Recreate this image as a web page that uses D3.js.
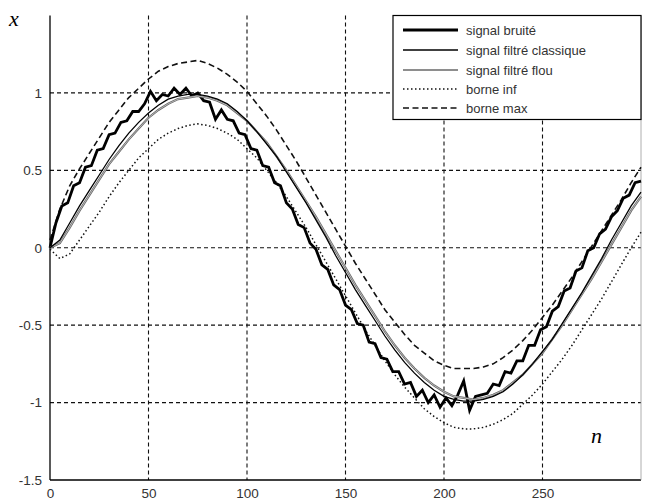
<!DOCTYPE html>
<html><head><meta charset="utf-8">
<script src="https://cdn.jsdelivr.net/npm/d3@7"></script>
<style>body{margin:0;background:#fff}svg{display:block}</style>
</head><body><svg id="c" width="649" height="502"></svg>
<script>
// ---- data ----
const xTicks = [0, 50, 100, 150, 200, 250];
const yTicks = [-1.5, -1, -0.5, 0, 0.5, 1];
const yTickLabels = ["-1.5", "-1", "-0.5", "0", "0.5", "1"];
const legendLabels = ["signal bruité", "signal filtré classique", "signal filtré flou", "borne inf", "borne max"];

// noisy signal, n = 0,3,6,...,300
const noisyN = d3.range(0, 301, 3);
const noisy = [0.00,0.16,0.27,0.29,0.40,0.42,0.52,0.53,0.63,0.64,0.73,0.74,0.81,0.82,0.88,0.88,0.93,1.01,0.95,0.99,
  0.98,1.03,0.99,1.03,0.98,1.00,0.95,0.94,0.83,0.89,0.83,0.82,0.74,0.73,0.64,0.63,0.53,0.52,0.42,0.40,
  0.29,0.25,0.15,0.13,0.03,-0.01,-0.11,-0.14,-0.24,-0.27,-0.37,-0.40,-0.49,-0.50,-0.61,-0.62,-0.71,-0.72,-0.80,-0.80,
  -0.88,-0.87,-0.96,-0.92,-1.00,-0.95,-1.03,-0.97,-1.02,-0.95,-0.86,-1.05,-0.96,-0.95,-0.94,-0.88,-0.89,-0.80,-0.81,-0.73,
  -0.73,-0.63,-0.63,-0.53,-0.51,-0.41,-0.38,-0.28,-0.26,-0.15,-0.13,-0.02,0.00,0.09,0.12,0.20,0.24,0.32,0.34,0.42,0.43];

// smooth curves, n = 0,5,...,300
const smoothN = d3.range(0, 301, 5);
const classique = [0.00,0.05,0.16,0.27,0.37,0.47,0.57,0.66,0.74,0.81,0.87,0.92,0.96,0.98,0.99,0.99,0.98,0.96,0.93,0.88,
  0.82,0.75,0.67,0.59,0.49,0.39,0.29,0.18,0.07,-0.05,-0.16,-0.27,-0.37,-0.47,-0.57,-0.66,-0.74,-0.81,-0.87,-0.92,
  -0.96,-0.98,-0.99,-0.99,-0.98,-0.96,-0.93,-0.88,-0.82,-0.75,-0.67,-0.59,-0.49,-0.39,-0.29,-0.18,-0.07,0.05,0.16,0.27,0.36];
const flou = [0.00,0.03,0.13,0.24,0.34,0.44,0.54,0.62,0.70,0.77,0.84,0.89,0.93,0.96,0.97,0.98,0.97,0.95,0.92,0.87,
  0.82,0.75,0.68,0.59,0.50,0.40,0.30,0.20,0.09,-0.02,-0.13,-0.24,-0.34,-0.44,-0.54,-0.63,-0.71,-0.78,-0.84,-0.89,
  -0.93,-0.96,-0.97,-0.98,-0.97,-0.95,-0.92,-0.87,-0.82,-0.75,-0.68,-0.59,-0.50,-0.40,-0.30,-0.20,-0.09,0.02,0.13,0.24,0.33];
const borneInf = [-0.01,-0.07,-0.04,0.05,0.14,0.23,0.33,0.42,0.50,0.58,0.64,0.70,0.74,0.77,0.79,0.80,0.79,0.77,0.74,0.70,
  0.64,0.58,0.50,0.42,0.33,0.23,0.13,0.02,-0.09,-0.20,-0.31,-0.42,-0.53,-0.63,-0.73,-0.82,-0.90,-0.97,-1.04,-1.09,
  -1.13,-1.16,-1.17,-1.17,-1.16,-1.14,-1.11,-1.07,-1.01,-0.95,-0.88,-0.80,-0.72,-0.63,-0.53,-0.43,-0.33,-0.22,-0.11,0.00,0.10];
const borneMax = [0.05,0.25,0.40,0.51,0.61,0.71,0.81,0.89,0.97,1.03,1.09,1.14,1.17,1.19,1.20,1.21,1.19,1.16,1.12,1.07,
  1.01,0.93,0.85,0.76,0.66,0.56,0.45,0.34,0.23,0.12,0.01,-0.10,-0.20,-0.30,-0.40,-0.48,-0.56,-0.63,-0.68,-0.73,
  -0.76,-0.78,-0.78,-0.78,-0.77,-0.75,-0.71,-0.66,-0.60,-0.53,-0.45,-0.37,-0.28,-0.19,-0.09,0.01,0.11,0.21,0.31,0.42,0.52];

// ---- chart ----
const svg = d3.select("#c");
const L = 50, R = 641, T = 15.5, B = 480;
const x = d3.scaleLinear().domain([0, 300]).range([L, R]);
const y = d3.scaleLinear().domain([-1.5, 1.5]).range([B, T]);
const font = "'Liberation Sans', Arial, sans-serif";

// grid
const g = svg.append("g");
g.selectAll(".gx").data(xTicks.filter(d => d > 0)).enter().append("line")
  .attr("x1", d => x(d)).attr("x2", d => x(d)).attr("y1", T).attr("y2", B)
  .attr("stroke", "#111").attr("stroke-width", 1.1).attr("stroke-dasharray", "4,3");
g.selectAll(".gy").data(yTicks.filter(d => d > -1.5)).enter().append("line")
  .attr("x1", L).attr("x2", R).attr("y1", d => y(d)).attr("y2", d => y(d))
  .attr("stroke", "#111").attr("stroke-width", 1.1).attr("stroke-dasharray", "4,3");

// axes
const xAxis = d3.axisBottom(x).tickValues(xTicks).tickSize(0).tickPadding(8).tickFormat(d3.format("d"));
const yAxis = d3.axisLeft(y).tickValues(yTicks).tickSize(0).tickPadding(8).tickFormat((d, i) => yTickLabels[i]);
const ax = svg.append("g").attr("transform", `translate(0,${B})`).call(xAxis);
const ay = svg.append("g").attr("transform", `translate(${L},0)`).call(yAxis);
[ax, ay].forEach(a => {
  a.select(".domain").remove();
  a.selectAll("text").attr("font-family", font).attr("font-size", 13.5).attr("fill", "#333");
});
svg.append("line").attr("x1", L).attr("x2", L).attr("y1", T).attr("y2", B).attr("stroke", "#000").attr("stroke-width", 1.3);
svg.append("line").attr("x1", L).attr("x2", R).attr("y1", B).attr("y2", B).attr("stroke", "#000").attr("stroke-width", 1.3);
svg.append("line").attr("x1", R).attr("x2", R).attr("y1", T).attr("y2", B).attr("stroke", "#999").attr("stroke-width", 0.8);

// series
const lineS = d3.line().x((d, i) => x(smoothN[i])).y(d => y(d));
const lineN = d3.line().x((d, i) => x(noisyN[i])).y(d => y(d));
const styles = [
  {w: 2.8, c: "#000", dash: null},
  {w: 1.3, c: "#000", dash: null},
  {w: 2.2, c: "#666", dash: null},
  {w: 1.5, c: "#111", dash: "1.5,2.5"},
  {w: 1.6, c: "#111", dash: "6,3.5"}
];
function draw(data, gen, s) {
  svg.append("path").attr("d", gen(data)).attr("fill", "none").attr("stroke", s.c)
    .attr("stroke-width", s.w).attr("stroke-dasharray", s.dash).attr("stroke-linejoin", "miter");
}
draw(borneMax, lineS, styles[4]);
draw(borneInf, lineS, styles[3]);
draw(noisy, lineN, styles[0]);
draw(flou, lineS, styles[2]);
svg.append("path").attr("d", lineS(flou)).attr("fill", "none").attr("stroke", "#ccc").attr("stroke-width", 0.8);
draw(classique, lineS, styles[1]);

// legend
const lg = svg.append("g");
lg.append("rect").attr("x", 393).attr("y", T).attr("width", R - 393).attr("height", 104)
  .attr("fill", "#fff").attr("stroke", "#000").attr("stroke-width", 1.2);
const rowY = [30, 50, 70, 89, 108];
legendLabels.forEach((t, i) => {
  const s = styles[i];
  lg.append("line").attr("x1", 403).attr("x2", 458).attr("y1", rowY[i]).attr("y2", rowY[i])
    .attr("stroke", s.c).attr("stroke-width", s.w).attr("stroke-dasharray", s.dash);
  if (i === 2) lg.append("line").attr("x1", 403).attr("x2", 458).attr("y1", rowY[i]).attr("y2", rowY[i])
    .attr("stroke", "#ccc").attr("stroke-width", 0.8);
  lg.append("text").attr("x", 466).attr("y", rowY[i]).attr("dy", "0.35em")
    .attr("font-family", font).attr("font-size", 13).attr("fill", "#333").text(t);
});

// axis symbols
svg.append("text").attr("x", 9).attr("y", 26).attr("font-family", "'Liberation Serif', 'DejaVu Serif', serif")
  .attr("font-style", "italic").attr("font-size", 22).text("x");
svg.append("text").attr("x", 591).attr("y", 443).attr("font-family", "'Liberation Serif', 'DejaVu Serif', serif")
  .attr("font-style", "italic").attr("font-size", 22).text("n");
</script></body></html>
